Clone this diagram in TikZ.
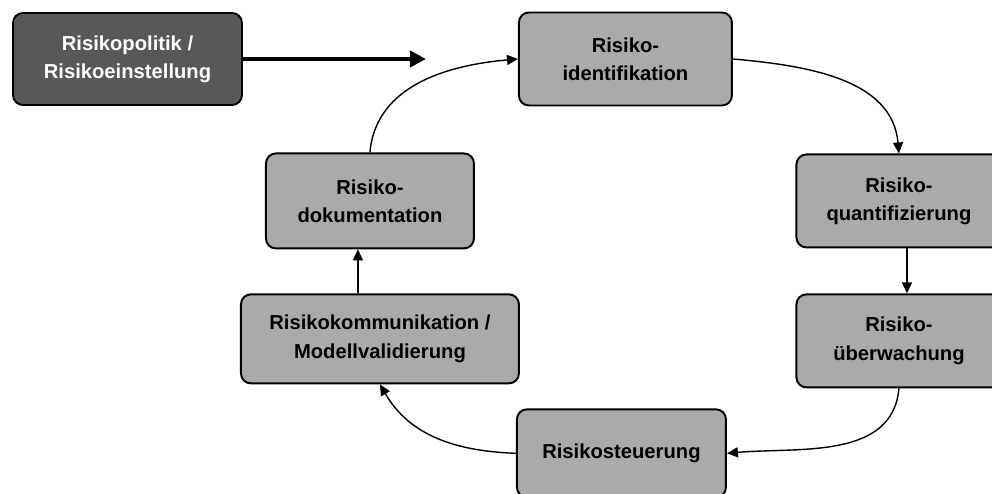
\documentclass[tikz,border=0pt]{standalone}
\usepackage{fontspec}
\setmainfont{Liberation Sans}
\usepackage{tikz}
\usetikzlibrary{calc, positioning, arrows.meta}
\definecolor{darkbox}{RGB}{88,88,88}
\definecolor{lightbox}{RGB}{170,170,170}

\begin{document}
\begin{tikzpicture}[node distance=2cm, auto]
    % Estilos dos blocos e das setas
    \tikzstyle{block} = [rectangle, draw, line width=1.1pt, fill=lightbox, align=center, rounded corners=0.2cm, minimum width=4.2cm, minimum height=1.86cm, font=\bfseries\fontsize{11.5}{16}\selectfont]
    \tikzstyle{policy_block} = [block, fill=darkbox, text=white]
    \tikzstyle{line} = [draw, line width=0.8pt, -{Triangle[length=2.2mm, width=2mm]}]
    \tikzstyle{thick_line} = [draw, line width=2.4pt, -{Triangle[length=3.2mm, width=3.2mm]}]

    % Moldura da figura
    \useasboundingbox (0,0) rectangle (19.84,-9.88);

    % Nós do ciclo
    \node [policy_block, minimum width=4.58cm, minimum height=1.84cm] (politik) at (2.55,-1.18) {Risikopolitik /\\Risikoeinstellung};
    \node [block, right=5.5cm of politik, minimum width=4.26cm] (ident) {Risiko-\\identifikation};
    \node [block, below=0.94cm of ident, xshift=5.47cm, minimum width=4.1cm] (quant) {Risiko-\\quantifizierung};
    \node [block, below=0.9cm of quant, minimum width=4.1cm] (ueber) {Risiko-\\überwachung};
    \node [block, below=0.4cm of ueber, xshift=-5.55cm, minimum width=4.18cm, minimum height=1.76cm] (steuer) {Risikosteuerung};
    \node [block, above=0.48cm of steuer, xshift=-4.83cm, minimum width=5.56cm, minimum height=1.78cm] (komm) {Risikokommunikation /\\Modellvalidierung};
    \node [block, above=0.88cm of komm, xshift=-0.2cm, minimum width=4.16cm, minimum height=1.9cm] (doku) {Risiko-\\dokumentation};

    % Ponta livre da seta grossa
    \coordinate (pol_tip) at ($(politik.east)+(3.66,0)$);

    % Setas
    \path [thick_line] (politik.east) -- (pol_tip);
    \path [line] (doku.north) to[out=85, in=185] (ident.west);
    \path [line] (ident.east) to[out=-5, in=95] (quant.north);
    \path [line] ([xshift=0.16cm]quant.south) -- ([xshift=0.16cm]quant.south |- ueber.north);
    \path [line] (ueber.south) to[out=-95, in=5] (steuer.east);
    \path [line] (steuer.west) to[out=178, in=-60] (komm.south);
    \path [line] ([xshift=-0.44cm]komm.north) -- ([xshift=-0.44cm]komm.north |- doku.south);
\end{tikzpicture}
\end{document}
